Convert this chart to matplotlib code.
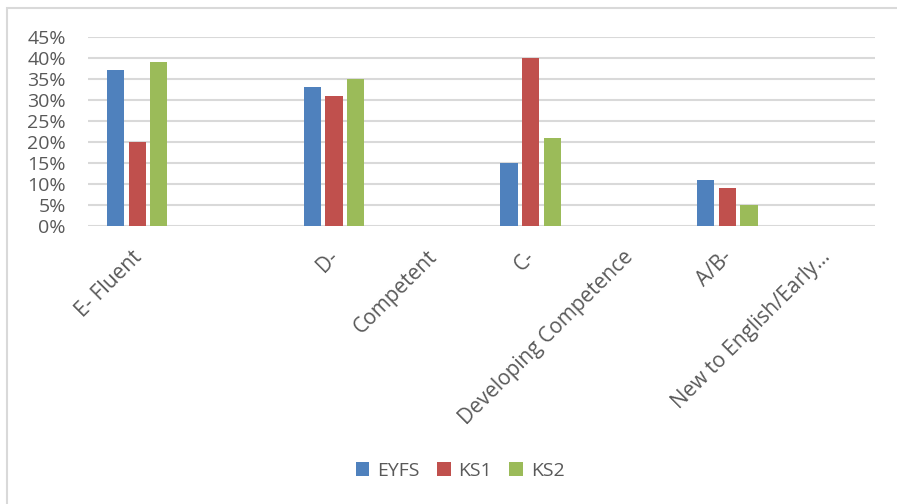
import numpy as np
import matplotlib.pyplot as plt
from matplotlib.patches import Rectangle
from matplotlib.ticker import PercentFormatter
from matplotlib.transforms import ScaledTranslation

plt.rcParams['font.family'] = ['Open Sans', 'DejaVu Sans']

categories = ['E- Fluent', '', 'D-', 'Competent', 'C-',
              'Developing Competence', 'A/B-', 'New to English/Early...']
eyfs = [0.37, np.nan, 0.33, np.nan, 0.15, np.nan, 0.11, np.nan]
ks1 = [0.20, np.nan, 0.31, np.nan, 0.40, np.nan, 0.09, np.nan]
ks2 = [0.39, np.nan, 0.35, np.nan, 0.21, np.nan, 0.05, np.nan]
series = ['EYFS', 'KS1', 'KS2']
colors = ['#4F81BD', '#C0504D', '#9BBB59']

W, H = 897, 504
fig = plt.figure(figsize=(W/100, H/100), dpi=100)
ax = fig.add_axes([88/W, 1-225.7/H, (875-88)/W, (225.7-36.7)/H])

x = np.arange(len(categories))
w = 0.175
step = 0.22
for i, (vals, name, c) in enumerate(zip([eyfs, ks1, ks2], series, colors)):
    ax.bar(x + (i-1)*step, vals, w, color=c, label=name, zorder=3)

ax.set_xlim(-0.5, len(categories)-0.5)
ax.set_ylim(0, 0.45)
ax.set_yticks(np.arange(0, 0.46, 0.05))
ax.yaxis.set_major_formatter(PercentFormatter(1.0, decimals=0))
ax.grid(axis='y', color='#D9D9D9', linewidth=1.5, zorder=0)
for s in ax.spines.values():
    s.set_visible(False)
ax.tick_params(length=0, colors='#595959')
ax.tick_params(axis='y', labelsize=14, pad=16)
ax.set_xticks(x)
ax.set_xticklabels(categories, rotation=45, ha='right', rotation_mode='anchor',
                   fontsize=15, color='#595959')
ax.tick_params(axis='x', pad=15)
shift = ScaledTranslation(-6/100, 0, fig.dpi_scale_trans)
for lbl in ax.get_xticklabels():
    lbl.set_transform(lbl.get_transform() + shift)

fig.legend(loc='center', bbox_to_anchor=(0.513, 0.066), ncol=3, frameon=False,
           fontsize=14, handlelength=0.7, handleheight=0.7, columnspacing=0.9,
           handletextpad=0.4, labelcolor='#595959')

# thin frame around the chart area
fig.patches.append(Rectangle((7/W, -0.1), 1.1, 1-8/H+0.1, transform=fig.transFigure,
                             fill=False, edgecolor='#D9D9D9', linewidth=1.5))

fig.savefig('out.png', dpi=100)
